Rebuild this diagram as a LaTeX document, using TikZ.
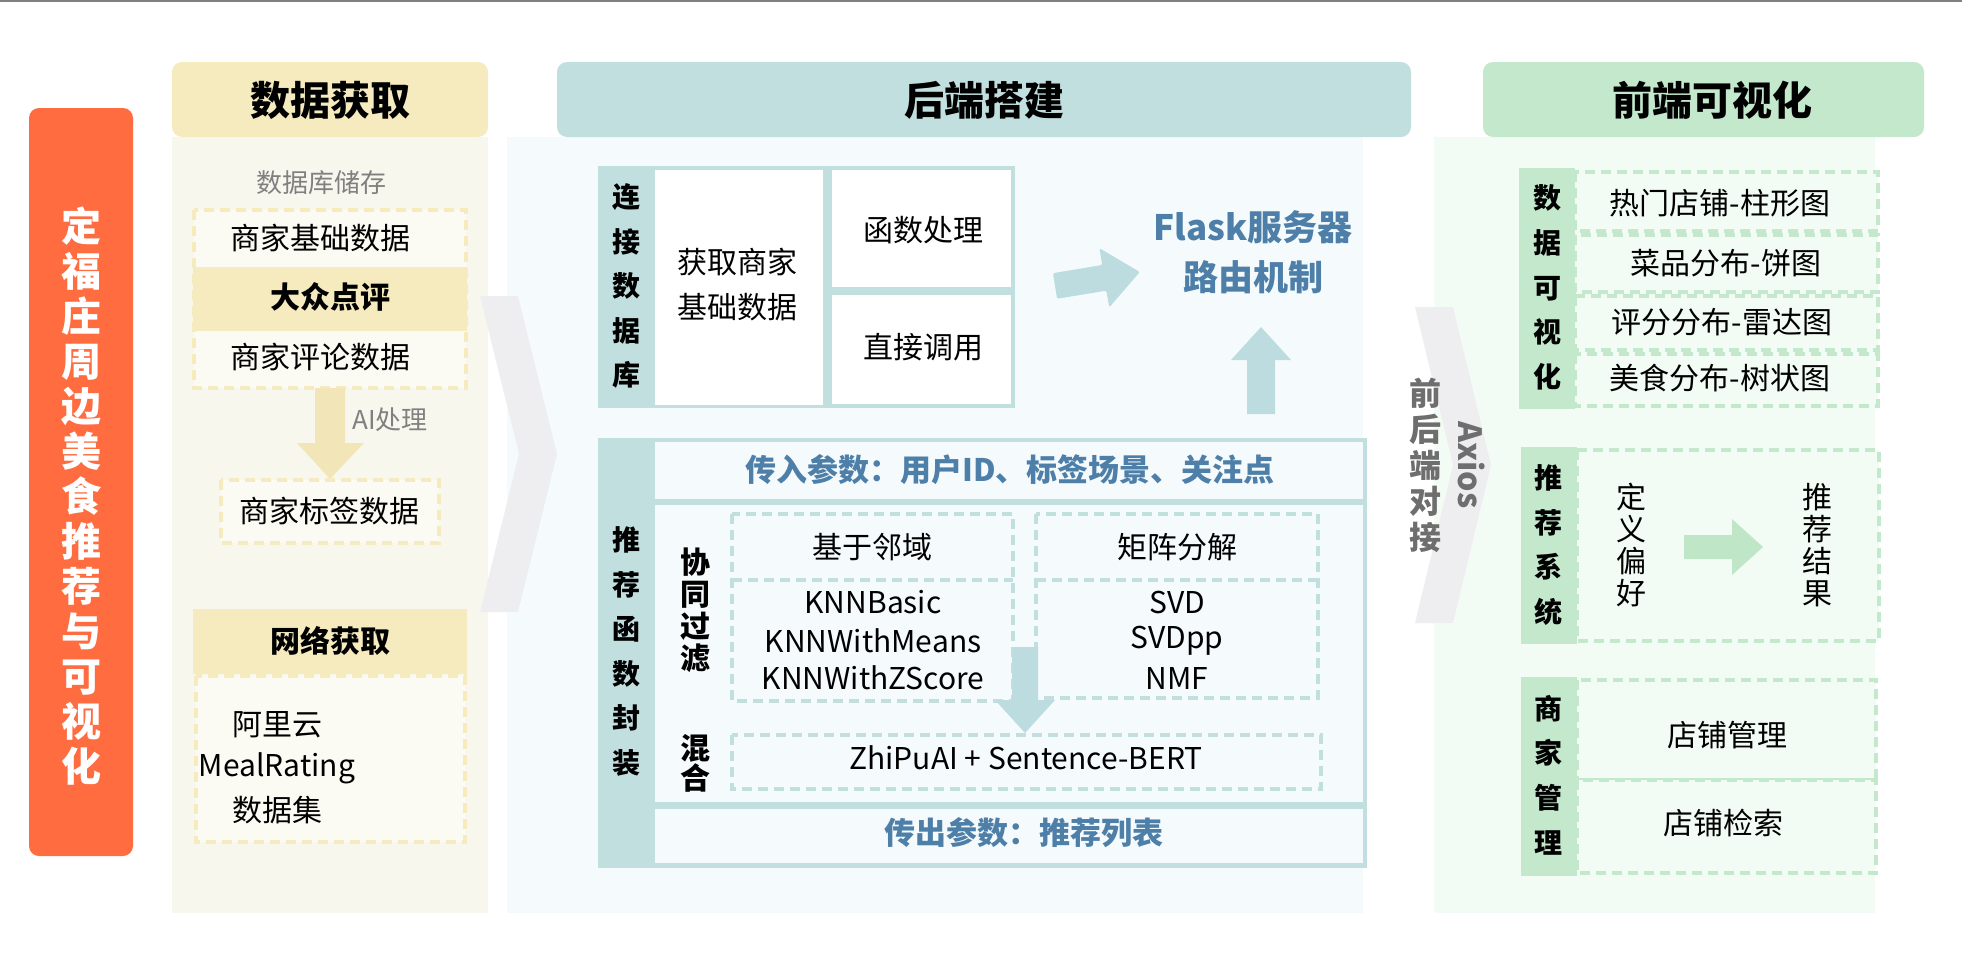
\documentclass[tikz,border=0pt]{standalone}
\usepackage{fontspec}
\setmainfont{Noto Sans CJK SC}
\newcommand\sz[2]{\fontsize{#1pt}{#2pt}\selectfont}
\definecolor{cOrange}{HTML}{FF6C40}
\definecolor{cYel}{HTML}{F5EBBF}
\definecolor{cYelPanel}{HTML}{F8F7EE}
\definecolor{cYelIn}{HTML}{FBFAF3}
\definecolor{cYelArrow}{HTML}{F2E6B8}
\definecolor{cTeal}{HTML}{C2DFE0}
\definecolor{cBluePanel}{HTML}{F5FBFD}
\definecolor{cTealArrow}{HTML}{BCDCDF}
\definecolor{cBlue}{HTML}{4E7FA8}
\definecolor{cGreen}{HTML}{C3E8CB}
\definecolor{cGreenPanel}{HTML}{F3FCF4}
\definecolor{cGreenArrow}{HTML}{BFE6C7}
\definecolor{cChev}{HTML}{EEEEF1}
\definecolor{cGrayT}{HTML}{808080}
\definecolor{cGrayB}{HTML}{6E6E6E}
\begin{document}
\begin{tikzpicture}[x=0.5pt,y=-0.5pt,
  txt/.style={inner sep=0pt, font=\sz{15}{18}},
  txtb/.style={inner sep=0pt, font=\sz{15}{18}\bfseries},
  hdrtxt/.style={inner sep=0pt, font=\sz{20}{24}\bfseries},
  vlab/.style={inner sep=0pt, align=center, font=\sz{14}{22.3}\bfseries},
  bluetxt/.style={inner sep=0pt, font=\sz{15.5}{18}\bfseries, text=cBlue},
  dashY/.style={draw=cYel, line width=2pt, dash pattern=on 5pt off 3pt},
  dashT/.style={draw=cTeal, line width=2pt, dash pattern=on 5pt off 3pt},
  dashG/.style={draw=cGreen, line width=2pt, dash pattern=on 5pt off 3pt},
  hdrbox/.style={rounded corners=5pt}
]
\useasboundingbox (0,0) rectangle (1962,953);
\fill[white] (0,0) rectangle (1962,953);
\draw[cGrayT, line width=1pt] (0,1) -- (1962,1);

% ---------------- title bar ----------------
\fill[cOrange, rounded corners=5pt] (29,108) rectangle (133,856);
\node[inner sep=0pt, align=center, text=white, font=\sz{20}{22.5}\bfseries] (title) at (81,496)
  {定\\福\\庄\\周\\边\\美\\食\\推\\荐\\与\\可\\视\\化};

% ---------------- left column ----------------
\fill[cYelPanel] (172,137) rectangle (488,913);
\fill[cYel, hdrbox] (172,62) rectangle (488,137);
\node[hdrtxt] (hL) at (330,100) {数据获取};
\node[inner sep=0pt, font=\sz{13}{16}, text=cGrayT] (dbstore) at (321,183) {数据库储存};
\filldraw[fill=cYelIn, dashY] (194,210) rectangle (466,388);
\fill[cYel] (193,267) rectangle (467,331);
\node[txt] (baseData) at (320,238) {商家基础数据};
\node[txtb] (dzdp) at (330,297) {大众点评};
\node[txt] (cmtData) at (320,357) {商家评论数据};
\fill[cYelArrow] (315,388) -- (345,388) -- (345,443) -- (364,443) -- (330,479) -- (297,443) -- (315,443) -- cycle;
\node[inner sep=0pt, font=\sz{13}{16}, text=cGrayT, anchor=west] (aiproc) at (352,420) {AI处理};
\filldraw[fill=cYelIn, dashY] (221,480) rectangle (439,543);
\node[txt] (tagData) at (329,511) {商家标签数据};
\fill[cYel] (193,609) rectangle (467,674);
\node[txtb] (netget) at (330,641) {网络获取};
\filldraw[fill=cYelIn, dashY] (196,676) rectangle (465,842);
\node[txt] (ali) at (277,725) {阿里云};
\node[txt] (meal) at (277,768) {MealRating};
\node[txt] (dset) at (277,810) {数据集};

% ---------------- middle column ----------------
\fill[cBluePanel] (507,137) rectangle (1363,913);
\fill[cTeal, hdrbox] (557,62) rectangle (1411,137);
\node[hdrtxt] (hM) at (984,100) {后端搭建};

% chevron 1
\fill[cChev] (480,296) -- (518,296) -- (557,454) -- (518,612) -- (480,612) -- (519,454) -- cycle;

% connect database
\fill[cTeal] (598,166) rectangle (1015,408);
\fill[white] (655,170) rectangle (823,405);
\fill[white] (832,170) rectangle (1011,287);
\fill[white] (832,295) rectangle (1011,404);
\node[vlab] (ljsjk) at (626,286) {连\\接\\数\\据\\库};
\node[txt, align=center, font=\sz{15}{22.5}] (getBase) at (737,285) {获取商家\\基础数据};
\node[txt] (funcProc) at (923,230) {函数处理};
\node[txt] (directCall) at (923,347) {直接调用};

% Flask
\fill[cTealArrow, rounded corners=1pt] (1052.9,273.2) -- (1102.2,265.0) -- (1099.4,248.2) -- (1139.8,272.0) -- (1109.2,307.4) -- (1106.4,290.6) -- (1057.1,298.8) -- cycle;
\node[inner sep=0pt, align=center, font=\sz{17.5}{25}\bfseries, text=cBlue] (flask) at (1253,252) {Flask服务器\\路由机制};
\fill[cTealArrow] (1247,414) -- (1247,360) -- (1231,360) -- (1261,327) -- (1291,360) -- (1275,360) -- (1275,414) -- cycle;

% recommendation function box
\fill[cTeal] (598,438) rectangle (1367,868);
\fill[cBluePanel] (655,442) rectangle (1363,499);
\fill[cBluePanel] (655,505) rectangle (1363,802);
\fill[cBluePanel] (655,809) rectangle (1363,863);
\node[vlab] (tjhs) at (626,651.5) {推\\荐\\函\\数\\封\\装};
\node[bluetxt] (inParam) at (1010,470) {传入参数：用户ID、标签场景、关注点};
\node[bluetxt] (outParam) at (1024,833) {传出参数：推荐列表};
\node[inner sep=0pt, align=center, font=\sz{15}{16}\bfseries] (cf) at (695,610) {协\\同\\过\\滤};
\node[inner sep=0pt, align=center, font=\sz{15}{15}\bfseries] (mix) at (695,763) {混\\合};
\filldraw[fill=cBluePanel, dashT] (732,514) rectangle (1013,701);
\draw[dashT] (732,580) -- (1013,580);
\filldraw[fill=cBluePanel, dashT] (1036,514) rectangle (1318,698);
\draw[dashT] (1036,580) -- (1318,580);
\node[txt] (knnHead) at (872,547) {基于邻域};
\node[txt] (knn1) at (873,602) {KNNBasic};
\node[txt] (knn2) at (873,641) {KNNWithMeans};
\node[txt] (knn3) at (873,678) {KNNWithZScore};
\node[txt] (mfHead) at (1177,547) {矩阵分解};
\node[txt] (mf1) at (1177,602) {SVD};
\node[txt] (mf2) at (1177,641) {SVDpp};
\node[txt] (mf3) at (1177,678) {NMF};
\fill[cTealArrow] (1012,647) -- (1038,647) -- (1038,700) -- (1055,700) -- (1025,733) -- (995,700) -- (1012,700) -- cycle;
\filldraw[fill=cBluePanel, dashT] (732,735) rectangle (1321,789);
\node[txt] (zhipu) at (1026,758) {ZhiPuAI + Sentence-BERT};

% ---------------- right column ----------------
\fill[cGreenPanel] (1434,137) rectangle (1875,913);
\fill[cGreen, hdrbox] (1483,62) rectangle (1924,137);
\node[hdrtxt] (hR) at (1712,100) {前端可视化};

% chevron 2
\fill[cChev] (1415,307) -- (1453,307) -- (1491,465) -- (1453,623) -- (1415,623) -- (1453,465) -- cycle;
\node[inner sep=0pt, align=center, font=\sz{16}{18}\bfseries, text=cGrayB] (fbe) at (1425,465) {前\\后\\端\\对\\接};
\node[inner sep=0pt, rotate=-90, font=\sz{16}{18}\bfseries, text=cGrayB] (axios) at (1472,465) {Axios};

% data visualisation
\fill[cGreen] (1519,168) rectangle (1575,409);
\node[vlab] (sjksh) at (1547,287.5) {数\\据\\可\\视\\化};
\filldraw[fill=cGreenPanel, dashG] (1575,172) rectangle (1878,231);
\filldraw[fill=cGreenPanel, dashG] (1575,235) rectangle (1878,292);
\filldraw[fill=cGreenPanel, dashG] (1575,296) rectangle (1878,350);
\filldraw[fill=cGreenPanel, dashG] (1575,354) rectangle (1878,406);
\node[txt] (v1) at (1720,203) {热门店铺-柱形图};
\node[txt] (v2) at (1726,263) {菜品分布-饼图};
\node[txt] (v3) at (1722,322) {评分分布-雷达图};
\node[txt] (v4) at (1720,378) {美食分布-树状图};

% recommender
\fill[cGreen] (1521,447) rectangle (1577,644);
\node[vlab] (tjxt) at (1548,545) {推\\荐\\系\\统};
\filldraw[fill=cGreenPanel, dashG] (1577,450) rectangle (1879,641);
\node[inner sep=0pt, align=center, font=\sz{15}{16}] (pref) at (1631,545) {定\\义\\偏\\好};
\node[inner sep=0pt, align=center, font=\sz{15}{16}] (res) at (1817,545) {推\\荐\\结\\果};
\fill[cGreenArrow] (1684,535) -- (1732,535) -- (1732,519) -- (1763,547) -- (1732,575) -- (1732,559) -- (1684,559) -- cycle;

% merchant management
\fill[cGreen] (1521,677) rectangle (1577,876);
\node[vlab] (sjgl) at (1548,775) {商\\家\\管\\理};
\filldraw[fill=cGreenPanel, dashG] (1577,680) rectangle (1876,780);
\filldraw[fill=cGreenPanel, dashG] (1577,780) rectangle (1876,873);
\node[txt] (m1) at (1727,735) {店铺管理};
\node[txt] (m2) at (1723,823) {店铺检索};
\end{tikzpicture}
\end{document}
